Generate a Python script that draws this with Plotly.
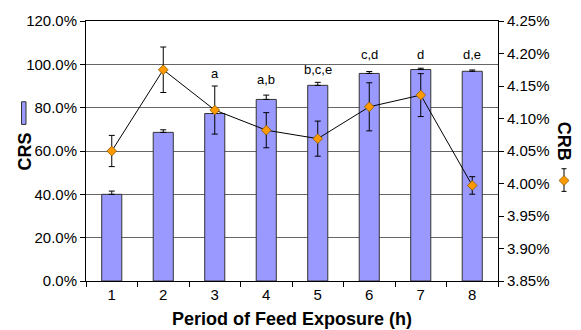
import plotly.graph_objects as go

# Feed exposure periods (h)
periods = [1, 2, 3, 4, 5, 6, 7, 8]

# CRS (%) with upper error
crs = [40.0, 68.6, 77.3, 83.8, 90.3, 95.8, 97.6, 96.8]
crs_err = [1.5, 1.2, 1.5, 2.0, 1.4, 0.9, 0.6, 0.6]

# CRB (%) with symmetric error
crb = [4.050, 4.175, 4.113, 4.082, 4.069, 4.118, 4.136, 3.997]
crb_err = [0.024, 0.035, 0.037, 0.027, 0.027, 0.037, 0.033, 0.0135]

# Significance letters per period
letters = ["", "", "a", "a,b", "b,c,e", "c,d", "d", "d,e"]

FONT = "Liberation Sans, Arial, sans-serif"
BAR_FILL = "#9999FF"
ORANGE = "#FF9900"

W, H = 581, 330
L, R, T, B = 86, 498, 17, 281


def px(x):
    return (x - L) / (R - L)


def py(y):
    return (B - y) / (B - T)


fig = go.Figure()

fig.add_trace(go.Bar(
    x=periods, y=crs, width=0.39,
    marker=dict(color=BAR_FILL, line=dict(color="#333333", width=1)),
    error_y=dict(type="data", symmetric=False, array=crs_err,
                 arrayminus=[0] * len(crs_err),
                 color="black", thickness=1, width=3),
    showlegend=False, yaxis="y",
))

fig.add_trace(go.Scatter(
    x=periods, y=crb, mode="lines+markers", yaxis="y2",
    line=dict(color="black", width=1),
    marker=dict(symbol="diamond", size=7.5, color=ORANGE,
                line=dict(color="#8a5a00", width=0.8)),
    error_y=dict(type="data", array=crb_err, color="black",
                 thickness=1, width=3),
    showlegend=False,
))

# Significance letters above the bars
letter_y = [None, None, 95.6, 93.2, 97.7, 104.5, 104.5, 104.5]
for p, t, yy in zip(periods, letters, letter_y):
    if t:
        fig.add_annotation(x=p, y=yy, xref="x", yref="y", text=t,
                           xanchor="center", yanchor="middle",
                           showarrow=False, font=dict(family=FONT, size=13, color="black"))


def label(text, x, y, angle, size):
    fig.add_annotation(x=px(x), y=py(y), xref="paper", yref="paper", text=text,
                       textangle=angle, showarrow=False,
                       xanchor="center", yanchor="middle",
                       font=dict(family=FONT, size=size, color="black"))


# Axis titles
label("<b>CRS</b>", 24.5, 150, -90, 18)
label("<b>CRB</b>", 563.5, 139, 90, 18)
label("<b>Period of Feed Exposure (h)</b>", 291.5, 320, 0, 18)

# Series keys beside the axis titles
shapes = [
    dict(type="rect", xref="paper", yref="paper",
         x0=px(21.5), x1=px(26), y0=py(122), y1=py(99),
         fillcolor=BAR_FILL, line=dict(color="#333333", width=1)),
    dict(type="line", xref="paper", yref="paper",
         x0=px(564), x1=px(564), y0=py(167), y1=py(190),
         line=dict(color="black", width=1)),
    dict(type="line", xref="paper", yref="paper",
         x0=px(561.5), x1=px(566.5), y0=py(167), y1=py(167),
         line=dict(color="black", width=1)),
    dict(type="line", xref="paper", yref="paper",
         x0=px(561.5), x1=px(566.5), y0=py(190), y1=py(190),
         line=dict(color="black", width=1)),
    dict(type="path", xref="paper", yref="paper",
         path=(f"M {px(564)},{py(174)} L {px(569)},{py(179)} "
               f"L {px(564)},{py(184)} L {px(559)},{py(179)} Z"),
         fillcolor=ORANGE, line=dict(color="#8a5a00", width=0.8)),
]

fig.update_layout(
    width=W, height=H,
    margin=dict(l=L, r=W - R, t=T, b=H - B),
    paper_bgcolor="white", plot_bgcolor="white",
    font=dict(family=FONT, size=15, color="black"),
    shapes=shapes,
    xaxis=dict(
        range=[0.5, 8.5], tickmode="array", tickvals=periods,
        ticktext=[str(p) for p in periods], ticks="",
        minor=dict(ticks="outside", tick0=0.5, dtick=1, ticklen=5,
                   tickcolor="black", showgrid=False),
        showline=True, linecolor="black", linewidth=1, mirror=True,
        showgrid=False, zeroline=False,
        tickfont=dict(family=FONT, size=15),
    ),
    yaxis=dict(
        range=[0, 120], dtick=20, tickformat=".1f", ticksuffix="%",
        ticks="outside", ticklen=5, tickcolor="black",
        showline=True, linecolor="black", linewidth=1,
        showgrid=True, gridcolor="#666666", gridwidth=1, zeroline=False,
        tickfont=dict(family=FONT, size=15),
    ),
    yaxis2=dict(
        range=[3.85, 4.25], dtick=0.05, tick0=3.85, tickformat=".2f", ticksuffix="%",
        overlaying="y", side="right",
        ticks="outside", ticklen=5, tickcolor="black",
        showline=True, linecolor="black", linewidth=1,
        showgrid=False, zeroline=False,
        tickfont=dict(family=FONT, size=15),
    ),
)

fig.write_html("out.html")
